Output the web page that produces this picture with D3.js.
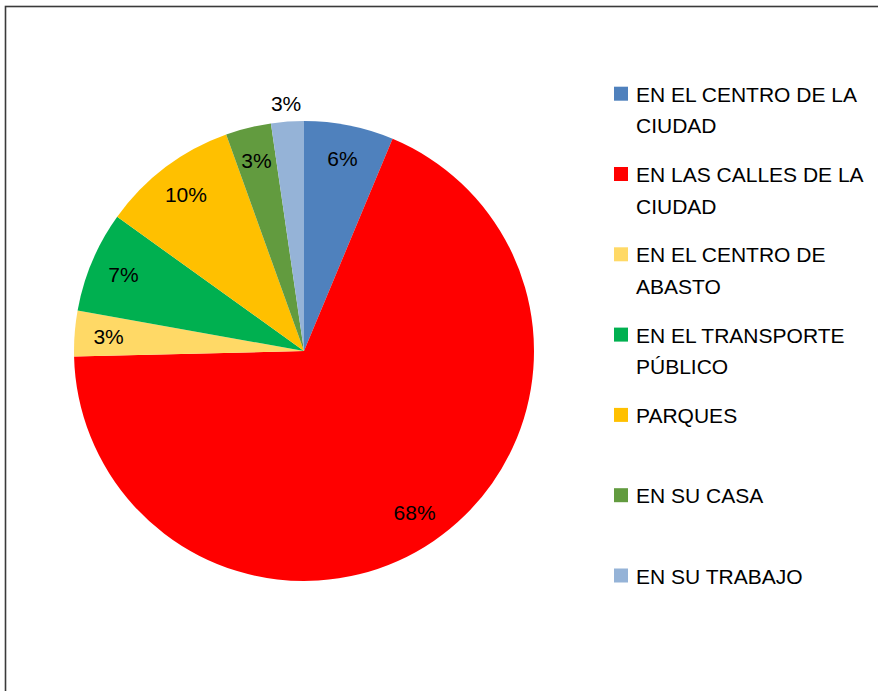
<!DOCTYPE html>
<html>
<head>
<meta charset="utf-8">
<script src="https://cdn.jsdelivr.net/npm/d3@7"></script>
<style>
    body { margin: 0; background: #fff; }
    svg text { font-family: "Liberation Sans", Arial, sans-serif; fill: #000; }
</style>
</head>
<body>
<div id="chart"></div>
<script>
// data (share of the circle, in %)
const categories = [
    ["EN EL CENTRO DE LA", "CIUDAD"],
    ["EN LAS CALLES DE LA", "CIUDAD"],
    ["EN EL CENTRO DE", "ABASTO"],
    ["EN EL TRANSPORTE", "PÚBLICO"],
    ["PARQUES"],
    ["EN SU CASA"],
    ["EN SU TRABAJO"]
];
const values = [6.3, 68.4, 3.2, 7.1, 9.6, 3.2, 2.3];
const valueLabels = ["6%", "68%", "3%", "7%", "10%", "3%", "3%"];
const colors = ["#4F81BD", "#FF0000", "#FFD966", "#00B050", "#FFC000", "#629B3F", "#95B3D7"];

const Width = 878, Height = 691;
const center = { x: 304, y: 351 };
const radius = 230;

const svg = d3.select("#chart")
    .append("svg")
        .attr("width", Width)
        .attr("height", Height);

// chart frame (only top and left edges fall inside the picture)
svg.append("rect")
    .attr("x", 5.5).attr("y", 6.5)
    .attr("width", 1000).attr("height", 1000)
    .attr("fill", "none")
    .attr("stroke", "#3a3a3a")
    .attr("stroke-width", 1.6);

const data = values.map((v, i) => ({ value: v, label: valueLabels[i], color: colors[i], name: categories[i] }));

const pie = d3.pie().sort(null).value(d => d.value);
const arcs = pie(data);

const arc = d3.arc().innerRadius(0).outerRadius(radius);
const labelArc = d3.arc().innerRadius(196).outerRadius(196);
const outerLabelArc = d3.arc().innerRadius(248).outerRadius(248);

const g = svg.append("g")
    .attr("transform", `translate(${center.x}, ${center.y})`);

// slices
g.selectAll("path")
    .data(arcs)
    .join("path")
        .attr("d", arc)
        .attr("fill", d => d.data.color);

// value labels (last slice is too thin, label sits outside)
g.selectAll("text.value")
    .data(arcs)
    .join("text")
        .attr("class", "value")
        .attr("transform", (d, i) => `translate(${(i === arcs.length - 1 ? outerLabelArc : labelArc).centroid(d)})`)
        .attr("text-anchor", "middle")
        .attr("dy", "0.36em")
        .attr("font-size", 21)
        .text(d => d.data.label);

// legend
const legend = svg.append("g")
    .attr("transform", "translate(614, 0)");

const item = legend.selectAll("g")
    .data(data)
    .join("g")
        .attr("transform", (d, i) => `translate(0, ${101.7 + i * 80.3})`);

item.append("rect")
    .attr("x", 0).attr("y", -15)
    .attr("width", 14).attr("height", 14)
    .attr("fill", d => d.color);

item.append("text")
    .attr("x", 22)
    .attr("font-size", 21)
    .selectAll("tspan")
    .data(d => d.name)
    .join("tspan")
        .attr("x", 22)
        .attr("y", (d, i) => i * 31.5)
        .text(d => d);
</script>
</body>
</html>
